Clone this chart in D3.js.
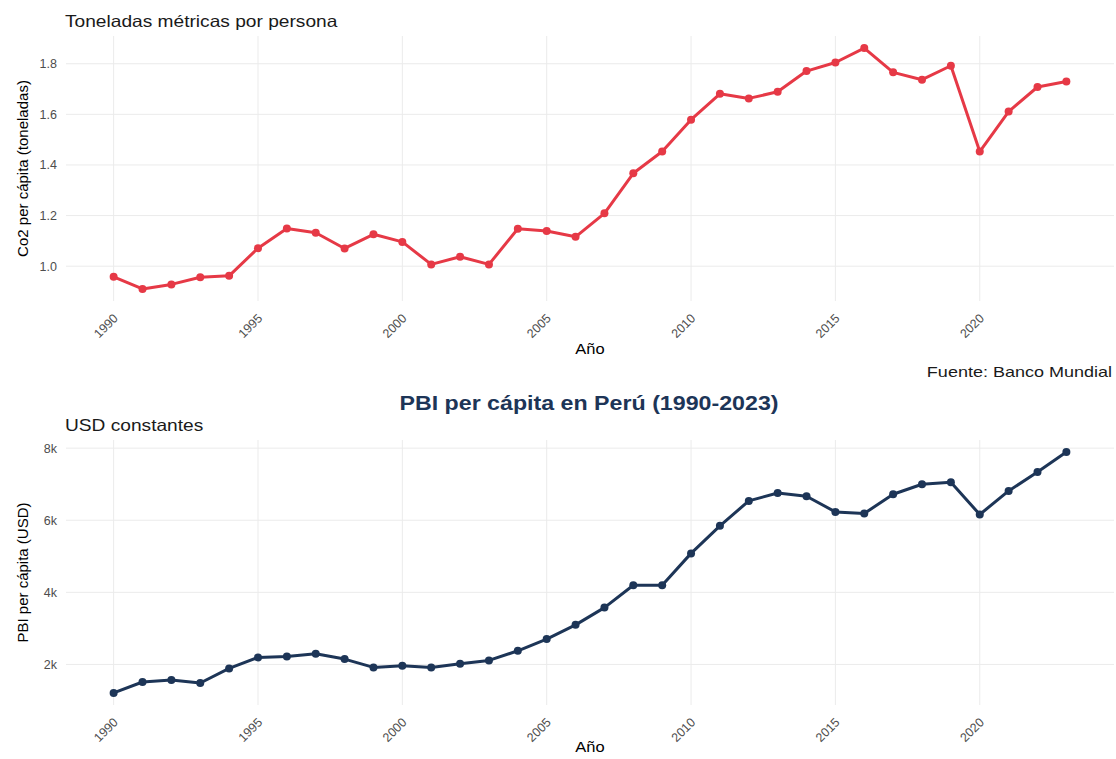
<!DOCTYPE html>
<html>
<head>
<meta charset="utf-8">
<script src="https://cdn.jsdelivr.net/npm/d3@7"></script>
<style>
  body { margin: 0; background: #fff; }
  svg { display: block; font-family: "Liberation Sans", Arial, sans-serif; }
  .grid line { stroke: #ebebeb; stroke-width: 1; }
  .tick-label { fill: #4d4d4d; font-size: 12.5px; }
  .axis-title { fill: #000; font-size: 15px; }
  .subtitle { fill: #1a1a1a; font-size: 16.5px; }
</style>
</head>
<body>
<div id="chart"></div>
<script>
// Datos (Banco Mundial, Perú 1990-2023)
var years = [1990, 1991, 1992, 1993, 1994, 1995, 1996, 1997, 1998, 1999,
  2000, 2001, 2002, 2003, 2004, 2005, 2006, 2007, 2008, 2009,
  2010, 2011, 2012, 2013, 2014, 2015, 2016, 2017, 2018, 2019,
  2020, 2021, 2022, 2023];

var co2PerCapita = [0.958, 0.910, 0.928, 0.956, 0.962, 1.071, 1.149, 1.132, 1.070, 1.126,
  1.096, 1.007, 1.037, 1.007, 1.148, 1.139, 1.116, 1.209, 1.367, 1.453,
  1.579, 1.681, 1.663, 1.689, 1.771, 1.805, 1.862, 1.766, 1.737, 1.792,
  1.453, 1.611, 1.708, 1.730];

var pbiPerCapita = [1209, 1513, 1568, 1486, 1889, 2194, 2221, 2296, 2149, 1917,
  1964, 1917, 2019, 2111, 2379, 2703, 3098, 3577, 4196, 4196,
  5081, 5845, 6536, 6757, 6666, 6232, 6188, 6722, 6998, 7054,
  6160, 6813, 7339, 7892];

var yearTicks = [1990, 1995, 2000, 2005, 2010, 2015, 2020];
var co2Ticks = [1.0, 1.2, 1.4, 1.6, 1.8];
var pbiTicks = [2000, 4000, 6000, 8000];

var width = 1116, height = 759;

var svg = d3.select('#chart')
  .append('svg')
  .attr('width', width)
  .attr('height', height);

// ggplot-like expansion of 5% on both ends
function expand(extent) {
  var pad = (extent[1] - extent[0]) * 0.05;
  return [extent[0] - pad, extent[1] + pad];
}

// the source picture is a bit stretched sideways, widen text to match
function widen(sel, k) {
  sel.each(function() {
    var w = this.getComputedTextLength();
    d3.select(this)
      .attr('textLength', w * k)
      .attr('lengthAdjust', 'spacingAndGlyphs');
  });
  return sel;
}

var x = d3.scaleLinear()
  .domain(expand(d3.extent(years)))
  .range([66, 1114]);

function drawPanel(options) {
  var y = d3.scaleLinear()
    .domain(expand(d3.extent(options.values)))
    .range([options.bottom, options.top]);

  var g = svg.append('g').attr('class', 'panel');

  var grid = g.append('g').attr('class', 'grid');
  grid.selectAll('line.h')
    .data(options.ticks)
    .enter().append('line')
    .attr('class', 'h')
    .attr('x1', x.range()[0])
    .attr('x2', x.range()[1])
    .attr('y1', function(d) { return y(d); })
    .attr('y2', function(d) { return y(d); });
  grid.selectAll('line.v')
    .data(yearTicks)
    .enter().append('line')
    .attr('class', 'v')
    .attr('x1', function(d) { return x(d); })
    .attr('x2', function(d) { return x(d); })
    .attr('y1', options.top)
    .attr('y2', options.bottom);

  g.selectAll('text.ytick')
    .data(options.ticks)
    .enter().append('text')
    .attr('class', 'tick-label ytick')
    .attr('x', 57)
    .attr('y', function(d) { return y(d); })
    .attr('dy', '0.35em')
    .attr('text-anchor', 'end')
    .text(options.format);

  g.selectAll('text.xtick')
    .data(yearTicks)
    .enter().append('text')
    .attr('class', 'tick-label xtick')
    .attr('transform', function(d) {
      return 'translate(' + (x(d) + 2) + ',' + (options.bottom + 15) + ') rotate(-45)';
    })
    .attr('dy', '0.35em')
    .attr('text-anchor', 'end')
    .text(function(d) { return d; });

  var pts = years.map(function(yr, i) { return [yr, options.values[i]]; });
  var line = d3.line()
    .x(function(d) { return x(d[0]); })
    .y(function(d) { return y(d[1]); });

  g.append('path')
    .datum(pts)
    .attr('fill', 'none')
    .attr('stroke', options.color)
    .attr('stroke-width', 3)
    .attr('stroke-linejoin', 'round')
    .attr('d', line);

  g.selectAll('circle')
    .data(pts)
    .enter().append('circle')
    .attr('cx', function(d) { return x(d[0]); })
    .attr('cy', function(d) { return y(d[1]); })
    .attr('r', 4)
    .attr('fill', options.color);

  widen(g.append('text')
    .attr('class', 'axis-title')
    .attr('x', (x.range()[0] + x.range()[1]) / 2)
    .attr('y', options.bottom + options.xTitleGap)
    .attr('text-anchor', 'middle')
    .text('Año'), 1.1);

  g.append('text')
    .attr('class', 'axis-title')
    .attr('transform', 'translate(28,' + ((options.top + options.bottom) / 2) + ') rotate(-90)')
    .attr('text-anchor', 'middle')
    .text(options.yTitle);

  widen(g.append('text')
    .attr('class', 'subtitle')
    .attr('x', 65)
    .attr('y', options.top - 9)
    .text(options.subtitle), 1.16);
}

drawPanel({
  values: co2PerCapita,
  ticks: co2Ticks,
  top: 36,
  bottom: 301,
  xTitleGap: 53,
  color: '#e63946',
  yTitle: 'Co2 per cápita (toneladas)',
  subtitle: 'Toneladas métricas por persona',
  format: function(d) { return d3.format('.1f')(d); }
});

widen(svg.append('text')
  .attr('x', 1112)
  .attr('y', 377)
  .attr('text-anchor', 'end')
  .attr('fill', '#1a1a1a')
  .attr('font-size', '15px')
  .text('Fuente: Banco Mundial'), 1.2);

widen(svg.append('text')
  .attr('x', 589)
  .attr('y', 410)
  .attr('text-anchor', 'middle')
  .attr('fill', '#1d3557')
  .attr('font-size', '20px')
  .attr('font-weight', 'bold')
  .text('PBI per cápita en Perú (1990-2023)'), 1.16);

drawPanel({
  values: pbiPerCapita,
  ticks: pbiTicks,
  top: 440,
  bottom: 705,
  xTitleGap: 47,
  color: '#1d3557',
  yTitle: 'PBI per cápita (USD)',
  subtitle: 'USD constantes',
  format: function(d) { return (d / 1000) + 'k'; }
});
</script>
</body>
</html>
